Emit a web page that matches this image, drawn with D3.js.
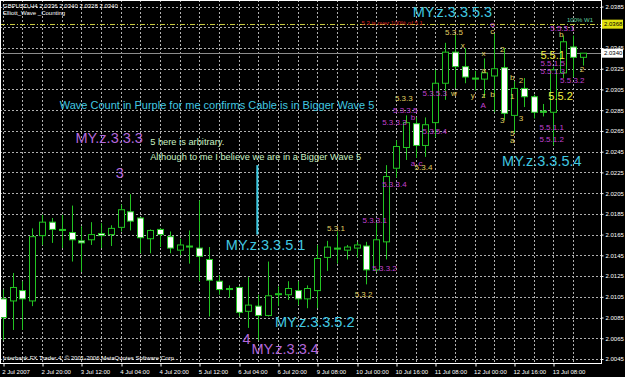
<!DOCTYPE html>
<html>
<head>
<meta charset="utf-8">
<script src="https://cdn.jsdelivr.net/npm/d3@7"></script>
<style>
  html, body { margin: 0; padding: 0; background: #000; overflow: hidden; }
  text { font-family: "Liberation Sans", Arial, sans-serif; }
</style>
</head>
<body>
<svg id="chart" width="625" height="377"></svg>
<script>
// GBPUSD H4 bars, left to right
const opens  = [2.0103,2.0101,2.0111,2.0101,2.0164,2.0177,2.0170,2.0167,2.0159,2.0160,
                2.0166,2.0165,2.0172,2.0187,2.0181,2.0161,2.0170,2.0163,2.0150,2.0154,
                2.0152,2.0141,2.0120,2.0112,2.0114,2.0091,2.0096,2.0087,2.0107,2.0107,
                2.0111,2.0103,2.0111,2.0143,2.0152,2.0150,2.0152,2.0154,2.0131,2.0158,
                2.0229,2.0249,2.0272,2.0251,2.0273,2.0311,2.0341,2.0327,2.0316,2.0315,
                2.0318,2.0326,2.0280,2.0306,2.0298,2.0284,2.0283,2.0321,2.0346,2.0336];
const highs  = [2.0112,2.0128,2.0120,2.0171,2.0184,2.0181,2.0184,2.0193,2.0173,2.0177,
                2.0176,2.0174,2.0194,2.0204,2.0182,2.0170,2.0171,2.0168,2.0161,2.0169,
                2.0198,2.0153,2.0126,2.0116,2.0115,2.0124,2.0107,2.0139,2.0115,2.0120,
                2.0120,2.0116,2.0155,2.0159,2.0168,2.0155,2.0158,2.0158,2.0177,2.0232,
                2.0256,2.0280,2.0278,2.0278,2.0324,2.0350,2.0358,2.0345,2.0323,2.0335,
                2.0359,2.0345,2.0313,2.0316,2.0300,2.0291,2.0327,2.0357,2.0357,2.0340];
const lows   = [2.0063,2.0073,2.0073,2.0096,2.0155,2.0157,2.0152,2.0139,2.0129,2.0155,
                2.0152,2.0154,2.0168,2.0169,2.0147,2.0147,2.0153,2.0147,2.0145,2.0137,
                2.0120,2.0086,2.0107,2.0104,2.0086,2.0075,2.0063,2.0086,2.0096,2.0102,
                2.0097,2.0094,2.0094,2.0130,2.0137,2.0141,2.0143,2.0117,2.0129,2.0141,
                2.0220,2.0237,2.0239,2.0240,2.0259,2.0295,2.0306,2.0311,2.0304,2.0297,
                2.0283,2.0275,2.0263,2.0288,2.0277,2.0279,2.0251,2.0316,2.0317,2.0328];
const closes = [2.0085,2.0114,2.0103,2.0163,2.0177,2.0170,2.0169,2.0160,2.0157,2.0165,
                2.0164,2.0171,2.0189,2.0178,2.0162,2.0169,2.0165,2.0152,2.0155,2.0153,
                2.0144,2.0121,2.0112,2.0113,2.0090,2.0097,2.0087,2.0106,2.0108,2.0113,
                2.0103,2.0113,2.0142,2.0153,2.0151,2.0153,2.0155,2.0131,2.0160,2.0221,
                2.0250,2.0273,2.0251,2.0271,2.0311,2.0341,2.0327,2.0317,2.0315,2.0321,
                2.0325,2.0282,2.0306,2.0298,2.0283,2.0283,2.0324,2.0351,2.0336,2.0340];

const dateTickBars   = [0, 4, 8, 12, 16, 20, 24, 28, 32, 36, 40, 44, 48, 52, 56];
const dateTickLabels = ["2 Jul 2007", "2 Jul 20:00", "3 Jul 12:00", "4 Jul 04:00", "4 Jul 20:00",
                        "5 Jul 12:00", "6 Jul 04:00", "6 Jul 20:00", "9 Jul 08:00", "10 Jul 00:00",
                        "10 Jul 16:00", "11 Jul 08:00", "12 Jul 00:00", "12 Jul 16:00", "13 Jul 08:00"];
const priceTicks = [2.0045, 2.0065, 2.0085, 2.0105, 2.0125, 2.0145, 2.0165, 2.0185, 2.0205,
                    2.0225, 2.0245, 2.0265, 2.0285, 2.0305, 2.0325, 2.0345, 2.0365, 2.0385];

const bidPrice = 2.0340;
const w1Price = 2.0368;

// chart objects: [text, bar, price]
const cyanBig = [
  ["MY.z.3.3.5.3", 41.7, 2.0380],
  ["MY.z.3.3.5.4", 50.8, 2.0236],
  ["MY.z.3.3.5.1", 22.7, 2.0155],
  ["MY.z.3.3.5.2", 27.7, 2.0081]
];
const purpleBig = [
  ["MY.z.3.3.3", 7.4, 2.0258],
  ["3", 11.5, 2.0224],
  ["4", 24.4, 2.0064],
  ["MY.z.3.3.4", 25.3, 2.0055]
];
const cyanNotes = [
  ["Wave Count in Purple for me confirms Cable is in Bigger Wave 5", 5.8, 2.0290]
];
const greenNotes = [
  ["5 here is arbitrary.", 15.0, 2.0254],
  ["Although to me I believe we are in a Bigger Wave 5", 15.0, 2.0240]
];
const purpleSmall = [
  ["5.3.5.3", 42.7, 2.0301], ["A", 48.6, 2.0290], ["o", 49.6, 2.0368],
  ["5.5.1.5", 54.7, 2.0330], ["5.5.1.3", 54.7, 2.0322], ["5.5.3.2", 56.7, 2.0314],
  ["5.5.1.1", 54.6, 2.0268], ["5.5.1.2", 54.6, 2.0257], ["5.5.3.1", 55.7, 2.0364],
  ["5.3.3.5", 39.7, 2.0285], ["b", 41.5, 2.0278], ["5.3.3.3", 38.6, 2.0273],
  ["5.3.5.4", 42.7, 2.0264], ["a", 41.5, 2.0234], ["c", 42.3, 2.0234],
  ["5.3.3.4", 38.6, 2.0213], ["5.3.3.1", 36.6, 2.0179], ["5.3.3.2", 37.6, 2.0132]
];
const yellowSmall = [
  ["5.3.5", 45.0, 2.0360], ["w", 45.6, 2.0301], ["y", 47.6, 2.0299], ["z", 48.7, 2.0299],
  ["x", 46.6, 2.0347], ["x", 48.7, 2.0340], ["a", 48.7, 2.0323], ["c", 49.6, 2.0361],
  ["b", 49.6, 2.0300], ["2", 50.6, 2.0344], ["3", 50.6, 2.0275], ["b", 51.6, 2.0317],
  ["1", 51.6, 2.0298], ["2", 52.5, 2.0314], ["3", 52.5, 2.0277], ["5", 51.6, 2.0263],
  ["a", 51.6, 2.0256], ["b", 56.6, 2.0358], ["2", 58.7, 2.0324],
  ["5.3.3", 39.9, 2.0296], ["5.3.4", 41.9, 2.0230], ["5.3.2", 35.8, 2.0107],
  ["5.3.1", 33.0, 2.0171]
];
const yellowBig = [
  ["5.5.1", 54.7, 2.0338],
  ["5.5.2", 55.5, 2.0299]
];
const redNotes = [["5.3 is over 100% of 5.1", 36.5, 2.0369]];
const w1Notes = [["100% W1", 57.4, 2.0372]];
const cyanLine = [25.9, 2.0232, 2.0165];

const svg = d3.select("#chart");
const plotRight = 601;
const plotBottom = 363;

const x = d3.scaleLinear().domain([0, opens.length - 1]).range([2.7, 582.7]);
const y = d3.scaleLinear().domain([2.0045, 2.0345]).range([359, 48]);

svg.append("rect").attr("width", 625).attr("height", 377).attr("fill", "#000");

svg.append("defs").append("clipPath").attr("id", "plot")
  .append("rect").attr("x", 0).attr("y", 0).attr("width", plotRight).attr("height", plotBottom);

const g = svg.append("g").attr("clip-path", "url(#plot)");

// grid
const gridBars = d3.range(0, opens.length, 2);
g.selectAll(".vgrid").data(gridBars).join("line")
  .attr("x1", d => Math.round(x(d)) + 0.5).attr("x2", d => Math.round(x(d)) + 0.5)
  .attr("y1", 0).attr("y2", plotBottom)
  .attr("stroke", "#b0b0b0").attr("stroke-dasharray", "2,2");
g.selectAll(".hgrid").data(priceTicks).join("line")
  .attr("x1", 0).attr("x2", plotRight)
  .attr("y1", d => Math.round(y(d)) + 0.5).attr("y2", d => Math.round(y(d)) + 0.5)
  .attr("stroke", "#b0b0b0").attr("stroke-dasharray", "2,2");

// 100% W1 level and bid line
g.append("line")
  .attr("x1", 0).attr("x2", plotRight)
  .attr("y1", Math.round(y(w1Price)) + 0.5).attr("y2", Math.round(y(w1Price)) + 0.5)
  .attr("stroke", "#c8c840").attr("stroke-dasharray", "5,2,1,2");
g.append("line")
  .attr("x1", 0).attr("x2", plotRight)
  .attr("y1", Math.round(y(bidPrice)) + 0.5).attr("y2", Math.round(y(bidPrice)) + 0.5)
  .attr("stroke", "#8c8c8c");

// candles
const candles = opens.map((o, i) => ({ i, o, h: highs[i], l: lows[i], c: closes[i] }));
const green = "#22c422";

g.selectAll(".wick").data(candles).join("line")
  .attr("x1", d => Math.round(x(d.i)) + 0.5).attr("x2", d => Math.round(x(d.i)) + 0.5)
  .attr("y1", d => y(d.h)).attr("y2", d => y(d.l))
  .attr("stroke", green);

g.selectAll(".body").data(candles).join("rect")
  .attr("x", d => Math.round(x(d.i)) - 2.5)
  .attr("width", 6)
  .attr("y", d => y(Math.max(d.o, d.c)))
  .attr("height", d => Math.max(0.5, Math.abs(y(d.o) - y(d.c))))
  .attr("fill", d => d.c < d.o ? "#ffffff" : "#000000")
  .attr("stroke", green);

// cyan marker line
g.append("line")
  .attr("x1", x(cyanLine[0])).attr("x2", x(cyanLine[0]))
  .attr("y1", y(cyanLine[1])).attr("y2", y(cyanLine[2]))
  .attr("stroke", "#3cc8e0").attr("stroke-width", 2);

// chart objects
function labels(data, size, color) {
  g.append("g").selectAll("text").data(data).join("text")
    .attr("x", d => x(d[1])).attr("y", d => y(d[2]))
    .attr("dominant-baseline", "central")
    .attr("font-size", size).attr("fill", color)
    .text(d => d[0]);
}
labels(cyanBig, 14.5, "#40c8e0");
labels(purpleBig, 14.5, "#b468dc");
labels(cyanNotes, 11, "#40c8e0");
labels(greenNotes, 9.3, "#c8f0c0");
labels(purpleSmall, 8, "#c040d0");
labels(yellowSmall, 8, "#e0d060");
labels(yellowBig, 11, "#f0f040");
labels(redNotes, 6, "#d02020");
labels(w1Notes, 6, "#60d0a0");

// window captions
g.append("text").attr("x", 3).attr("y", 6).attr("dominant-baseline", "central")
  .attr("font-size", 6).attr("fill", "#fff")
  .text("GBPUSD,H4  2.0336 2.0340 2.0328 2.0340");
g.append("text").attr("x", 3).attr("y", 13).attr("dominant-baseline", "central")
  .attr("font-size", 6).attr("fill", "#fff")
  .text("Elliott_Wave _Counting");
g.append("text").attr("x", 3).attr("y", 358).attr("dominant-baseline", "central")
  .attr("font-size", 6).attr("fill", "#fff")
  .text("Interbank FX Trader 4, \u00a9 2001-2006 MetaQuotes Software Corp.");

// frame
svg.append("rect")
  .attr("x", 0.5).attr("y", 0.5).attr("width", plotRight).attr("height", plotBottom)
  .attr("fill", "none").attr("stroke", "#ffffff");

// axes
const xAxis = svg.append("g")
  .attr("transform", `translate(0, ${plotBottom + 0.5})`)
  .call(d3.axisBottom(x).tickValues(dateTickBars)
    .tickFormat((d, k) => dateTickLabels[k]).tickSize(3).tickPadding(3));
xAxis.select(".domain").remove();
xAxis.selectAll("line").attr("stroke", "#fff").attr("transform", d => `translate(${Math.round(x(d)) + 0.5 - x(d)},0)`);
xAxis.selectAll("text").attr("text-anchor", "start").attr("dx", -1)
  .attr("fill", "#fff").attr("font-size", 6)
  .attr("font-family", "Liberation Sans, Arial, sans-serif");

// price axis; the level under the W1 box is hidden by it
const boxed = d => Math.abs(y(d) - y(w1Price)) < 5 || Math.abs(y(d) - y(bidPrice)) < 5;
const yAxis = svg.append("g")
  .attr("transform", `translate(${plotRight + 0.5}, 0)`)
  .call(d3.axisRight(y).tickValues(priceTicks)
    .tickFormat(d => boxed(d) ? "" : d3.format(".4f")(d))
    .tickSize(2).tickPadding(2));
yAxis.select(".domain").remove();
yAxis.selectAll("line").attr("stroke", "#fff");
yAxis.selectAll("text").attr("fill", "#fff").attr("font-size", 6)
  .attr("font-family", "Liberation Sans, Arial, sans-serif");

// price boxes
[[w1Price, "#e0e010"], [bidPrice, "#ffffff"]].forEach(([p, fill]) => {
  const py = y(p);
  svg.append("rect").attr("x", plotRight + 1).attr("y", py - 4.5)
    .attr("width", 21).attr("height", 9).attr("fill", fill);
  svg.append("text").attr("x", plotRight + 3).attr("y", py)
    .attr("dominant-baseline", "central").attr("font-size", 6).attr("fill", "#000")
    .text(d3.format(".4f")(p));
});
</script>
</body>
</html>
